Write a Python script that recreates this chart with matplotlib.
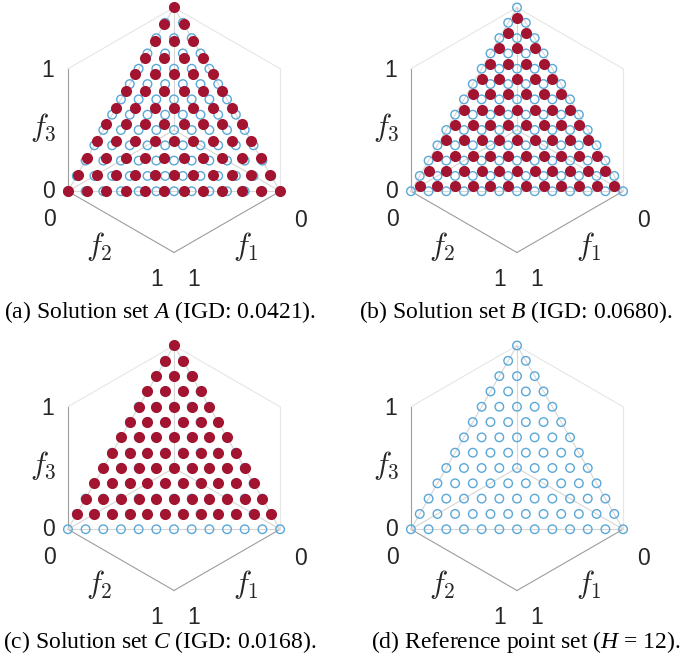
import numpy as np
import matplotlib
matplotlib.use('Agg')
import matplotlib.pyplot as plt
from matplotlib.transforms import offset_copy

plt.rcParams['mathtext.fontset'] = 'custom'
plt.rcParams['mathtext.rm'] = 'Liberation Serif'
plt.rcParams['mathtext.it'] = 'Liberation Serif:italic'

# lattice divisions of each point set on the simplex f1 + f2 + f3 = 1
ref_divisions = 12        # reference points, H = 12
a_divisions = 11          # set A: uniform grid one step coarser
b_divisions = 11          # set B: centroids of the upward cells of the H = 12 grid
b_shift = 1 / 3
c_lowest_row = 1          # set C: reference grid without its f3 = 0 row

captions = ['(a) Solution set $A$ (IGD: 0.0421).',
            '(b) Solution set $B$ (IGD: 0.0680).',
            '(c) Solution set $C$ (IGD: 0.0168).',
            '(d) Reference point set ($H$ = 12).']
tick_labels = ['0', '1']
axis_labels = [r'$f_1$', r'$f_2$', r'$f_3$']

W, H = 683, 667
panel_centres = [(174, 130), (517, 130), (174, 468), (517, 468)]   # pixels from top left
arm = 122.5                                                        # centre to vertex, pixels
caption_pos = [(160, 318), (516, 318), (160, 648), (526, 648)]

red = '#A2142F'
blue = '#5AA8D8'
axis_grey = '#9d9d9d'
back_grey = '#d6d6d6'
top_grey = '#e6e6e6'


def lattice(divs):
    return np.array([(i, j, divs - i - j) for i in range(divs + 1)
                     for j in range(divs + 1 - i)], dtype=float)


ref = lattice(ref_divisions) / ref_divisions
set_a = lattice(a_divisions) / a_divisions
set_b = (lattice(b_divisions) + b_shift) / ref_divisions
set_c = ref[ref[:, 2] >= c_lowest_row / ref_divisions]
solutions = [set_a, set_b, set_c, None]

# cube edges seen from (1, 1, 1) and the triangle of the simplex
edges = [((1, 0, 0), (1, 0, 1), axis_grey),
         ((1, 0, 0), (1, 1, 0), axis_grey),
         ((0, 1, 0), (1, 1, 0), axis_grey),
         ((1, 0, 1), (0, 0, 1), top_grey),
         ((0, 0, 1), (0, 1, 1), top_grey),
         ((0, 1, 0), (0, 1, 1), top_grey),
         ((0, 0, 0), (1, 0, 0), back_grey),
         ((0, 0, 0), (0, 1, 0), back_grey),
         ((0, 0, 0), (0, 0, 1), back_grey),
         ((1, 0, 0), (0, 1, 0), back_grey),
         ((1, 0, 0), (0, 0, 1), back_grey),
         ((0, 1, 0), (0, 0, 1), back_grey)]

# (anchor, text, dx, dy) with offsets in pixels, y up
tick_texts = [((1, 0, 1), tick_labels[1], -20, 0),
              ((1, 0, 0), tick_labels[0], -19, 1),
              ((1, 0, 0), tick_labels[0], -18, -27),
              ((1, 1, 0), tick_labels[1], -17, -25),
              ((1, 1, 0), tick_labels[1], 20, -25),
              ((0, 1, 0), tick_labels[0], 20, -28)]
label_texts = [((0.5, 1, 0), axis_labels[0], 19, -25),
               ((1, 0.5, 0), axis_labels[1], -22, -25),
               ((1, 0, 0.5), axis_labels[2], -25, 3)]

fig = plt.figure(figsize=(W / 100, H / 100), dpi=100)


def project(ax, pts):
    pts = np.asarray(pts, dtype=float)
    v = ax.get_proj() @ np.vstack([pts.T, np.ones(len(pts))])
    return np.column_stack([v[0] / v[3], v[1] / v[3]])


def place(ax, cx, cy):
    # scale and shift the square axes so the cube centre and arm land where wanted
    pix = ax.transData.transform(project(ax, [(0, 0, 0), (0, 0, 1)]))
    bb = ax.bbox
    side = arm * bb.height / (pix[1, 1] - pix[0, 1])
    fx = (pix[0, 0] - bb.x0) / bb.width
    fy = (pix[0, 1] - bb.y0) / bb.height
    ax.set_position([(cx - fx * side) / W, (H - cy - fy * side) / H, side / W, side / H])


for n, sol in enumerate(solutions):
    ax = fig.add_axes([0.05, 0.05, 0.4, 0.4 * W / H], projection='3d')
    ax.set_proj_type('ortho')
    ax.view_init(elev=np.degrees(np.arctan(1 / np.sqrt(2))), azim=45)
    ax.set_box_aspect((1, 1, 1))
    ax.set_axis_off()
    ax.computed_zorder = False

    for p, q, col in edges:
        ax.plot(*zip(p, q), color=col, lw=0.8, zorder=1, clip_on=False)

    ax.scatter(ref[:, 0], ref[:, 1], ref[:, 2], s=38, facecolors='none',
               edgecolors=blue, linewidths=1.0, depthshade=False, zorder=2, clip_on=False)
    if sol is not None:
        ax.scatter(sol[:, 0], sol[:, 1], sol[:, 2], s=64, c=red, linewidths=0,
                   depthshade=False, zorder=3, clip_on=False)

    ax.set_xlim(0, 1)
    ax.set_ylim(0, 1)
    ax.set_zlim(0, 1)
    place(ax, *panel_centres[n])

    # tick and axis labels sit at fixed pixel offsets from projected box corners
    for anchor, s, dx, dy in tick_texts:
        (px, py), = project(ax, [anchor])
        tr = offset_copy(ax.transData, fig=fig, x=dx, y=dy - 8.2, units='dots')
        ax.text2D(px, py, s, transform=tr, ha='center', va='baseline',
                  fontsize=16.5, family='Liberation Sans', color='#262626')
    for anchor, s, dx, dy in label_texts:
        (px, py), = project(ax, [anchor])
        tr = offset_copy(ax.transData, fig=fig, x=dx, y=dy, units='dots')
        ax.text2D(px, py, s, transform=tr, ha='center', va='center',
                  fontsize=22, math_fontfamily='cm', color='#262626')

    cx, cy = caption_pos[n]
    fig.text(cx / W, 1 - cy / H, captions[n], ha='center', va='baseline',
             fontsize=17, family='Liberation Serif', color='black')

fig.savefig('out.png', dpi=100)
